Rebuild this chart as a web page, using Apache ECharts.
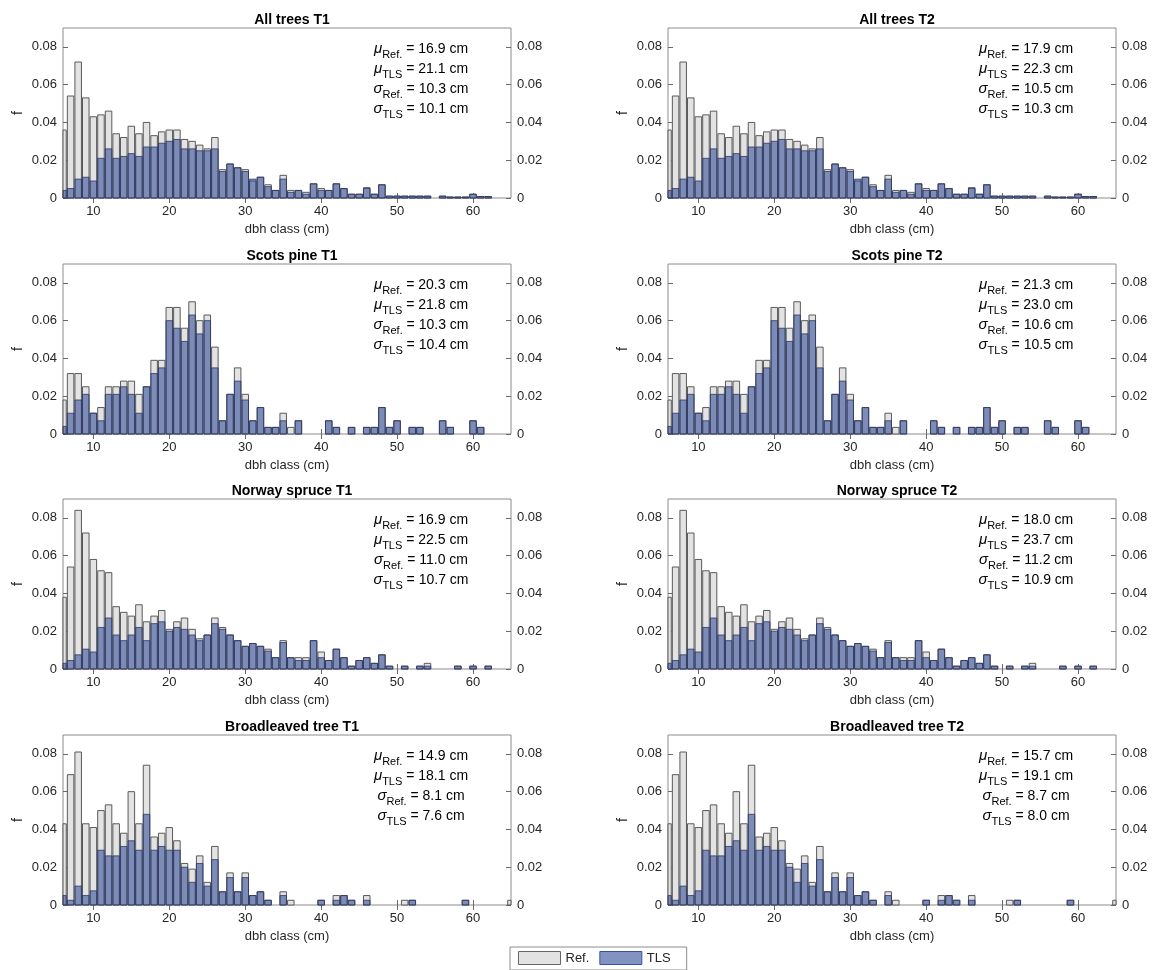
<!DOCTYPE html>
<html>
<head>
<meta charset="utf-8">
<script src="https://cdn.jsdelivr.net/npm/echarts@6/dist/echarts.min.js"></script>
<style>
html,body{margin:0;padding:0;background:#fff;}
#chart{width:1153px;height:970px;}
</style>
</head>
<body>
<div id="chart"></div>
<script>
// ---------------- DATA ----------------
const dbhClasses = [6,7,8,9,10,11,12,13,14,15,16,17,18,19,20,21,22,23,24,25,26,27,28,29,30,31,32,33,34,35,36,37,38,39,40,41,42,43,44,45,46,47,48,49,50,51,52,53,54,55,56,57,58,59,60,61,62,63,64,65];
const xTicks = [10,20,30,40,50,60];
const yTicks = [0,0.02,0.04,0.06,0.08];

const panelTitles = ['All trees T1','All trees T2','Scots pine T1','Scots pine T2','Norway spruce T1','Norway spruce T2','Broadleaved tree T1','Broadleaved tree T2'];
const muRef = [16.9,17.9,20.3,21.3,16.9,18.0,14.9,15.7];
const muTls = [21.1,22.3,21.8,23.0,22.5,23.7,18.1,19.1];
const sdRef = [10.3,10.5,10.3,10.6,11.0,11.2,8.1,8.7];
const sdTls = [10.1,10.3,10.4,10.5,10.7,10.9,7.6,8.0];

// relative frequencies per dbh class (6 ... 65 cm)
const allRef = [0.036,0.054,0.072,0.053,0.043,0.044,0.046,0.034,0.032,0.038,0.034,0.040,0.033,0.035,0.036,0.036,0.031,0.030,0.028,0.026,0.032,0.015,0.018,0.016,0.015,0.009,0.011,0.007,0.004,0.012,0.004,0.004,0.003,0.0075,0.005,0.004,0.0075,0.005,0.002,0.002,0.0055,0.002,0.007,0.001,0.001,0.001,0.001,0.001,0.001,0,0.001,0.0005,0.0005,0.0005,0.002,0.0008,0.0008,0,0,0];
const allTls = [0.004,0.005,0.010,0.011,0.009,0.021,0.026,0.021,0.022,0.0235,0.022,0.027,0.027,0.029,0.030,0.031,0.026,0.026,0.025,0.025,0.026,0.014,0.018,0.016,0.014,0.010,0.011,0.006,0.004,0.010,0.003,0.004,0.002,0.0075,0.004,0.004,0.0075,0.005,0.002,0.002,0.005,0.002,0.007,0.001,0.001,0.001,0.001,0.001,0.001,0,0.001,0.0005,0.0005,0.0005,0.002,0.0008,0.0008,0,0,0];

const pineRef = [0.018,0.032,0.032,0.025,0.011,0.014,0.025,0.025,0.028,0.028,0.021,0.025,0.039,0.039,0.067,0.067,0.056,0.070,0.060,0.063,0.046,0.007,0.021,0.035,0.021,0.007,0.014,0.0035,0.0035,0.011,0.0035,0.007,0,0,0,0.007,0.0035,0,0.0035,0,0.0035,0.0035,0.014,0.0035,0.007,0,0.0035,0.0035,0,0,0.007,0.0035,0,0,0.007,0.0035,0,0,0,0];
const pineTls = [0.004,0.011,0.018,0.021,0.011,0.007,0.021,0.021,0.025,0.021,0.011,0.025,0.032,0.035,0.060,0.056,0.049,0.063,0.053,0.060,0.035,0.007,0.021,0.028,0.018,0.007,0.014,0.0035,0.0035,0.007,0,0.007,0,0,0,0.007,0.0035,0,0.0035,0,0.0035,0.0035,0.014,0.0035,0.007,0,0.0035,0.0035,0,0,0.007,0.0035,0,0,0.007,0.0035,0,0,0,0];

const spruceRef = [0.038,0.054,0.084,0.072,0.058,0.052,0.051,0.033,0.030,0.028,0.034,0.025,0.028,0.031,0.021,0.025,0.027,0.021,0.016,0.018,0.027,0.022,0.018,0.015,0.012,0.0135,0.012,0.0105,0.006,0.015,0.006,0.006,0.006,0.015,0.009,0.0045,0.0105,0.006,0.0015,0.0045,0.006,0.003,0.0075,0.0015,0,0.0015,0,0.0015,0.003,0,0,0,0.0015,0,0.0015,0,0.0015,0,0,0];
const spruceTls = [0.003,0.0045,0.0075,0.0105,0.009,0.022,0.027,0.018,0.015,0.018,0.022,0.015,0.024,0.025,0.020,0.022,0.021,0.018,0.015,0.018,0.024,0.021,0.018,0.015,0.012,0.0135,0.012,0.0095,0.006,0.014,0.006,0.0045,0.0045,0.015,0.006,0.0045,0.0105,0.006,0.0015,0.0045,0.006,0.003,0.0075,0.0015,0,0.0015,0,0.0015,0.0015,0,0,0,0.0015,0,0.0015,0,0.0015,0,0,0];

const broadRef = [0.043,0.069,0.081,0.043,0.041,0.050,0.053,0.043,0.038,0.060,0.043,0.074,0.036,0.038,0.041,0.034,0.022,0.019,0.026,0.012,0.031,0.007,0.017,0.007,0.017,0.005,0.007,0.0025,0,0.007,0.0025,0,0,0,0.0025,0,0.005,0.005,0.0025,0,0.005,0,0,0,0,0.0025,0.0025,0,0,0,0,0,0,0.0025,0,0,0,0,0,0.0025];
const broadTls = [0.005,0.0025,0.010,0.005,0.0075,0.029,0.026,0.026,0.031,0.034,0.029,0.048,0.029,0.031,0.029,0.029,0.020,0.012,0.022,0.010,0.024,0.007,0.0145,0.007,0.0145,0.005,0.007,0.0025,0,0.005,0,0,0,0,0.0025,0,0.0025,0.005,0.0025,0,0.0025,0,0,0,0,0,0.0025,0,0,0,0,0,0,0.0025,0,0,0,0,0,0];

// the T1 and T2 histograms are visually identical in the source figure
const panelRef = [allRef, allRef, pineRef, pineRef, spruceRef, spruceRef, broadRef, broadRef];
const panelTls = [allTls, allTls, pineTls, pineTls, spruceTls, spruceTls, broadTls, broadTls];

// ---------------- STYLE / LAYOUT ----------------
const FONT = '"Liberation Sans", Arial, Helvetica, sans-serif';
const colLeft = [63, 668];
const rowTop = [28, 264, 499, 735];
const GW = 448, GH = 170;
const BOX = '#8c8c8c';
const TICK = '#6a6a6a';
const TXT = '#262626';
const REF_FILL = '#e3e3e3', REF_EDGE = '#5a5a5a';
const TLS_FILL = 'rgba(52,78,150,0.58)', TLS_EDGE = 'rgba(45,55,100,0.8)';
const HALF = 0.43;

function makeRender(fill, stroke) {
  return function (params, api) {
    const x = api.value(0), y = api.value(1);
    if (!y) return null;
    const p0 = api.coord([x - HALF, y]);
    const p1 = api.coord([x + HALF, 0]);
    const rect = {x: p0[0], y: p0[1], width: p1[0] - p0[0], height: p1[1] - p0[1]};
    const cs = params.coordSys;
    const clipped = echarts.graphic.clipRectByRect(rect, {x: cs.x, y: cs.y, width: cs.width, height: cs.height});
    if (!clipped) return null;
    return {type: 'rect', shape: clipped, style: {fill: fill, stroke: stroke, lineWidth: 1}};
  };
}

const grids = [], xAxes = [], yAxes = [], series = [], titles = [], graphics = [];
const fmtY = v => (v === 0 ? '0' : v.toFixed(2));

panelTitles.forEach((title, i) => {
  const col = i % 2, row = Math.floor(i / 2);
  const left = colLeft[col], top = rowTop[row];
  grids.push({left: left, top: top, width: GW, height: GH, show: true, borderColor: BOX, borderWidth: 1, backgroundColor: '#fff', containLabel: false});

  xAxes.push({
    type: 'value', gridIndex: i, position: 'bottom', min: 6, max: 65,
    axisLine: {show: false},
    axisTick: {show: true, inside: true, length: 5, lineStyle: {color: TICK}, customValues: xTicks},
    axisLabel: {show: true, customValues: xTicks, color: TXT, fontSize: 13, fontFamily: FONT, margin: 7},
    splitLine: {show: false},
    name: 'dbh class (cm)', nameLocation: 'middle', nameGap: 25,
    nameTextStyle: {color: TXT, fontSize: 13, fontFamily: FONT}
  });
  xAxes.push({
    type: 'value', gridIndex: i, position: 'top', min: 6, max: 65,
    axisLine: {show: false},
    axisTick: {show: true, inside: true, length: 5, lineStyle: {color: TICK}, customValues: xTicks},
    axisLabel: {show: false}, splitLine: {show: false}
  });
  yAxes.push({
    type: 'value', gridIndex: i, position: 'left', min: 0, max: 0.09,
    axisLine: {show: false},
    axisTick: {show: true, inside: true, length: 5, lineStyle: {color: TICK}, customValues: yTicks},
    axisLabel: {show: true, customValues: yTicks, formatter: fmtY, color: TXT, fontSize: 13, fontFamily: FONT, margin: 6},
    splitLine: {show: false},
    name: 'f', nameLocation: 'middle', nameRotate: 90, nameGap: 38,
    nameTextStyle: {color: TXT, fontSize: 14, fontFamily: FONT}
  });
  yAxes.push({
    type: 'value', gridIndex: i, position: 'right', min: 0, max: 0.09,
    axisLine: {show: false},
    axisTick: {show: true, inside: true, length: 5, lineStyle: {color: TICK}, customValues: yTicks},
    axisLabel: {show: true, customValues: yTicks, formatter: fmtY, color: TXT, fontSize: 13, fontFamily: FONT, margin: 6},
    splitLine: {show: false}
  });

  series.push({
    type: 'custom', name: 'Ref.', xAxisIndex: 2 * i, yAxisIndex: 2 * i,
    data: dbhClasses.map((c, k) => [c, panelRef[i][k]]),
    encode: {x: 0, y: 1},
    itemStyle: {color: REF_FILL, borderColor: REF_EDGE},
    renderItem: makeRender(REF_FILL, REF_EDGE), silent: true, z: 2
  });
  series.push({
    type: 'custom', name: 'TLS', xAxisIndex: 2 * i, yAxisIndex: 2 * i,
    data: dbhClasses.map((c, k) => [c, panelTls[i][k]]),
    encode: {x: 0, y: 1},
    itemStyle: {color: '#8393bf', borderColor: TLS_EDGE},
    renderItem: makeRender(TLS_FILL, TLS_EDGE), silent: true, z: 3
  });

  titles.push({
    text: title, left: left + GW / 2, top: top - 20, textAlign: 'center',
    textStyle: {fontSize: 14, fontWeight: 'bold', color: '#000', fontFamily: FONT}
  });

  const line = (g, sub, val) => '{g|' + g + '}{s|' + sub + '}{t| = ' + val.toFixed(1) + ' cm}';
  graphics.push({
    type: 'text', x: left + 358, y: top + 11, z: 100,
    style: {
      text: [line('μ', 'Ref.', muRef[i]), line('μ', 'TLS', muTls[i]), line('σ', 'Ref.', sdRef[i]), line('σ', 'TLS', sdTls[i])].join('\n'),
      align: 'center', verticalAlign: 'top', fill: '#000', font: '14px ' + FONT,
      rich: {
        g: {fontSize: 15, fontStyle: 'italic', fontFamily: FONT, lineHeight: 20, fill: '#000', color: '#000'},
        s: {fontSize: 11, fontFamily: FONT, lineHeight: 8, padding: [12, 0, 0, 0], fill: '#000', color: '#000'},
        t: {fontSize: 14, fontFamily: FONT, lineHeight: 20, fill: '#000', color: '#000'}
      }
    }
  });
});

const option = {
  animation: false,
  backgroundColor: '#fff',
  textStyle: {fontFamily: FONT},
  title: titles,
  grid: grids,
  xAxis: xAxes,
  yAxis: yAxes,
  series: series,
  graphic: graphics,
  legend: {
    left: 510, top: 947, orient: 'horizontal',
    itemWidth: 42, itemHeight: 13, itemGap: 10,
    padding: [4, 16, 5, 8],
    borderColor: '#8c8c8c', borderWidth: 1, backgroundColor: '#fff',
    textStyle: {fontSize: 13, color: TXT, fontFamily: FONT},
    selectedMode: false,
    data: [
      {name: 'Ref.', icon: 'rect', itemStyle: {color: REF_FILL, borderColor: '#666', borderWidth: 1}},
      {name: 'TLS', icon: 'rect', itemStyle: {color: '#8393bf', borderColor: '#3552a8', borderWidth: 1}}
    ]
  }
};

const chart = echarts.init(document.getElementById('chart'), null, {renderer: 'canvas'});
chart.setOption(option);
</script>
</body>
</html>
